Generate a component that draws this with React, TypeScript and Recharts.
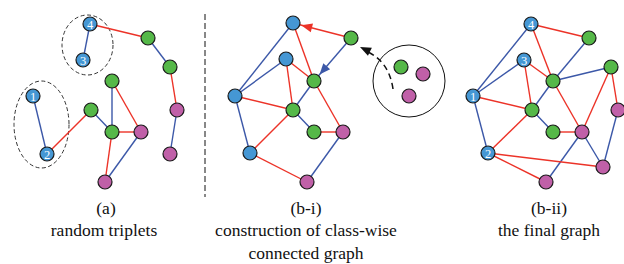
import React from 'react';
import { ScatterChart, Scatter, XAxis, YAxis, ReferenceLine } from 'recharts';

// node classes: b = blue, g = green, m = magenta
type Cls = 'b' | 'g' | 'm';
interface GNode { id: string; x: number; y: number; cls: Cls; label?: string }
type GEdge = [string, string, 'r' | 'b'];

// panel (a): random triplets
const nodesA: GNode[] = [
  { id: 'a4', x: 90, y: 24, cls: 'b', label: '4' },
  { id: 'a3', x: 83, y: 60, cls: 'b', label: '3' },
  { id: 'a1', x: 33, y: 96, cls: 'b', label: '1' },
  { id: 'a2', x: 47, y: 154, cls: 'b', label: '2' },
  { id: 'ag1', x: 148, y: 38, cls: 'g' },
  { id: 'ag2', x: 170, y: 67, cls: 'g' },
  { id: 'ag3', x: 112, y: 81, cls: 'g' },
  { id: 'ag4', x: 91, y: 110, cls: 'g' },
  { id: 'ag5', x: 112, y: 132, cls: 'g' },
  { id: 'am1', x: 177, y: 110, cls: 'm' },
  { id: 'am2', x: 170, y: 154, cls: 'm' },
  { id: 'am3', x: 141, y: 132, cls: 'm' },
  { id: 'am4', x: 105, y: 182, cls: 'm' },
];
const edgesA: GEdge[] = [
  ['a4', 'a3', 'b'], ['a4', 'ag1', 'r'], ['ag1', 'ag2', 'b'], ['ag2', 'am1', 'r'],
  ['am1', 'am2', 'b'], ['a1', 'a2', 'b'], ['a2', 'ag4', 'r'], ['ag4', 'ag5', 'b'],
  ['ag3', 'ag5', 'b'], ['ag3', 'am3', 'r'], ['ag5', 'am3', 'r'], ['ag5', 'am4', 'r'],
  ['am3', 'am4', 'b'],
];

// panel (b-i): construction of class-wise connected graph
const nodesBi: GNode[] = [
  { id: 'i4', x: 293, y: 23, cls: 'b' },
  { id: 'i3', x: 286, y: 59, cls: 'b' },
  { id: 'i1', x: 235, y: 96, cls: 'b' },
  { id: 'i2', x: 250, y: 153, cls: 'b' },
  { id: 'ig1', x: 351, y: 38, cls: 'g' },
  { id: 'ig2', x: 314, y: 81, cls: 'g' },
  { id: 'ig3', x: 293, y: 110, cls: 'g' },
  { id: 'ig4', x: 314, y: 132, cls: 'g' },
  { id: 'im1', x: 343, y: 132, cls: 'm' },
  { id: 'im2', x: 307, y: 182, cls: 'm' },
  // pool of remaining triplet members
  { id: 'pg', x: 401, y: 67, cls: 'g' },
  { id: 'pm1', x: 423, y: 74, cls: 'm' },
  { id: 'pm2', x: 409, y: 96, cls: 'm' },
];
const edgesBi: GEdge[] = [
  ['i4', 'i1', 'b'], ['i3', 'i1', 'b'], ['i1', 'i2', 'b'], ['i4', 'ig2', 'r'],
  ['i3', 'ig2', 'r'], ['i3', 'ig3', 'r'], ['i1', 'ig3', 'r'], ['ig1', 'i4', 'r'],
  ['ig1', 'ig2', 'b'], ['ig2', 'ig3', 'b'], ['ig2', 'im1', 'r'], ['ig3', 'ig4', 'b'],
  ['ig4', 'im1', 'r'], ['ig3', 'i2', 'r'], ['i2', 'im2', 'r'], ['im2', 'im1', 'b'],
];
const arrowsBi: [string, string][] = [['ig1', 'i4'], ['ig1', 'ig2']];

// panel (b-ii): the final graph
const nodesBii: GNode[] = [
  { id: 'j4', x: 531, y: 24, cls: 'b', label: '4' },
  { id: 'j3', x: 524, y: 60, cls: 'b', label: '3' },
  { id: 'j1', x: 473, y: 96, cls: 'b', label: '1' },
  { id: 'j2', x: 488, y: 153, cls: 'b', label: '2' },
  { id: 'jg1', x: 589, y: 38, cls: 'g' },
  { id: 'jg2', x: 553, y: 81, cls: 'g' },
  { id: 'jg5', x: 611, y: 67, cls: 'g' },
  { id: 'jg3', x: 532, y: 110, cls: 'g' },
  { id: 'jg4', x: 553, y: 132, cls: 'g' },
  { id: 'jm1', x: 618, y: 110, cls: 'm' },
  { id: 'jm3', x: 582, y: 132, cls: 'm' },
  { id: 'jm4', x: 603, y: 167, cls: 'm' },
  { id: 'jm2', x: 546, y: 182, cls: 'm' },
];
const edgesBii: GEdge[] = [
  ['j4', 'j1', 'b'], ['j3', 'j1', 'b'], ['j1', 'j2', 'b'], ['j4', 'jg1', 'r'],
  ['j4', 'jg2', 'r'], ['j3', 'jg2', 'r'], ['j3', 'jg3', 'r'], ['j1', 'jg3', 'r'],
  ['jg1', 'jg2', 'b'], ['jg2', 'jg5', 'b'], ['jg2', 'jg3', 'b'], ['jg2', 'jm3', 'r'],
  ['jg5', 'jm3', 'r'], ['jg5', 'jm1', 'r'], ['jm1', 'jm4', 'b'], ['jg3', 'jg4', 'b'],
  ['jg4', 'jm3', 'r'], ['jm3', 'jm2', 'b'], ['jm3', 'jm4', 'b'], ['jg3', 'j2', 'r'],
  ['j2', 'jm4', 'r'], ['j2', 'jm2', 'r'],
];

const captions = [
  { x: 106, y: 208, text: '(a)' },
  { x: 104, y: 230, text: 'random triplets' },
  { x: 306, y: 208, text: '(b-i)' },
  { x: 306, y: 230, text: 'construction of class-wise' },
  { x: 306, y: 253, text: 'connected graph' },
  { x: 549, y: 208, text: '(b-ii)' },
  { x: 549, y: 230, text: 'the final graph' },
];

const NODE_FILL: Record<Cls, string> = { b: '#4597d4', g: '#55b848', m: '#c060a8' };
const EDGE_STROKE = { r: '#ec3328', b: '#3c58a8' };

const allNodes = [...nodesA, ...nodesBi, ...nodesBii];
const byId: Record<string, GNode> = {};
allNodes.forEach((n) => (byId[n.id] = n));

const allEdges = [...edgesA, ...edgesBi, ...edgesBii].map(([s, t, k]) => ({
  data: [byId[s], byId[t]],
  kind: k,
}));

// arrow tips sit just outside the target node
const arrowTips = arrowsBi.map(([s, t]) => {
  const a = byId[s];
  const b = byId[t];
  const ang = Math.atan2(b.y - a.y, b.x - a.x);
  const kind = allEdges.find((e) => e.data[0] === a && e.data[1] === b)?.kind || 'r';
  return { x: b.x - Math.cos(ang) * 8.5, y: b.y - Math.sin(ang) * 8.5, ang, kind };
});

const serif = "Liberation Serif, Times New Roman, Times, DejaVu Serif, Noto Serif, serif";

const NodeShape = (p: any) => {
  const n: GNode = p.payload;
  return (
    <g>
      <circle cx={p.cx} cy={p.cy} r={7} fill={NODE_FILL[n.cls]} stroke="#1b1b1b" strokeWidth={1.2} />
      {n.label && (
        <text
          x={p.cx}
          y={p.cy + 0.5}
          textAnchor="middle"
          dominantBaseline="central"
          fill="#fff"
          fontFamily={serif}
          fontSize={12.5}
        >
          {n.label}
        </text>
      )}
    </g>
  );
};

const ArrowHead = (p: any) => {
  const { ang, kind } = p.payload;
  const deg = (ang * 180) / Math.PI;
  return (
    <polygon
      points="0,0 -11,-4.5 -11,4.5"
      fill={EDGE_STROKE[kind as 'r' | 'b']}
      transform={`translate(${p.cx},${p.cy}) rotate(${deg})`}
    />
  );
};

const Caption = (p: any) => (
  <text
    x={p.cx}
    y={p.cy}
    textAnchor="middle"
    dominantBaseline="central"
    fill="#111"
    fontFamily={serif}
    fontSize={17.5}
  >
    {p.payload.text}
  </text>
);

// dashed ellipses around the blue pairs in (a)
const ellipses = [
  { x: 87.5, y: 45, rx: 25.5, ry: 30 },
  { x: 41.5, y: 124.5, rx: 27.5, ry: 43.5 },
];
const EllipseShape = (p: any) => (
  <ellipse cx={p.cx} cy={p.cy} rx={p.payload.rx} ry={p.payload.ry} fill="none" stroke="#333" strokeWidth={1} strokeDasharray="4 2.5" />
);

// pool circle in (b-i) and the dashed arrow leaving it
const pool = [{ x: 409, y: 81, r: 36 }];
const PoolShape = (p: any) => (
  <circle cx={p.cx} cy={p.cy} r={p.payload.r} fill="none" stroke="#111" strokeWidth={1} />
);
const pick = [{ x: 393, y: 89, tx: 360, ty: 47 }];
const PickShape = (p: any) => {
  const { x, y, tx, ty } = p.payload;
  const ex = p.cx + (tx - x);
  const ey = p.cy + (ty - y);
  const qx = p.cx - 4;
  const qy = p.cy - 28;
  const ang = (Math.atan2(ey - qy, ex - qx) * 180) / Math.PI;
  return (
    <g>
      <path d={`M${p.cx},${p.cy} Q${qx},${qy} ${ex + 6},${ey + 4}`} fill="none" stroke="#111" strokeWidth={1.5} strokeDasharray="6 4" />
      <polygon points="0,0 -11,-4.5 -11,4.5" fill="#111" transform={`translate(${ex},${ey}) rotate(${ang})`} />
    </g>
  );
};

const Empty = () => <g />;

const App: React.FC = () => {
  return (
    <div style={{ position: 'absolute', left: 0, top: 0, width: 624, height: 264, background: '#fff', fontFamily: serif }}>
      <ScatterChart width={624} height={264} margin={{ top: 0, right: 0, bottom: 0, left: 0 }}>
        <XAxis type="number" dataKey="x" domain={[0, 624]} hide />
        <YAxis type="number" dataKey="y" domain={[0, 264]} reversed hide />
        <ReferenceLine
          segment={[{ x: 205, y: 14 }, { x: 205, y: 197 }]}
          stroke="#111"
          strokeWidth={1}
          strokeDasharray="6 3"
          ifOverflow="visible"
        />
        <Scatter data={ellipses} shape={EllipseShape} isAnimationActive={false} />
        <Scatter data={pool} shape={PoolShape} isAnimationActive={false} />
        {allEdges.map((e, i) => (
          <Scatter
            key={'e' + i}
            data={e.data}
            line={{ stroke: EDGE_STROKE[e.kind], strokeWidth: 1.4 }}
            shape={Empty}
            isAnimationActive={false}
          />
        ))}
        <Scatter data={arrowTips} shape={ArrowHead} isAnimationActive={false} />
        <Scatter data={allNodes} shape={NodeShape} isAnimationActive={false} />
        <Scatter data={pick} shape={PickShape} isAnimationActive={false} />
        <Scatter data={captions} shape={Caption} isAnimationActive={false} />
      </ScatterChart>
    </div>
  );
};

export default App;
